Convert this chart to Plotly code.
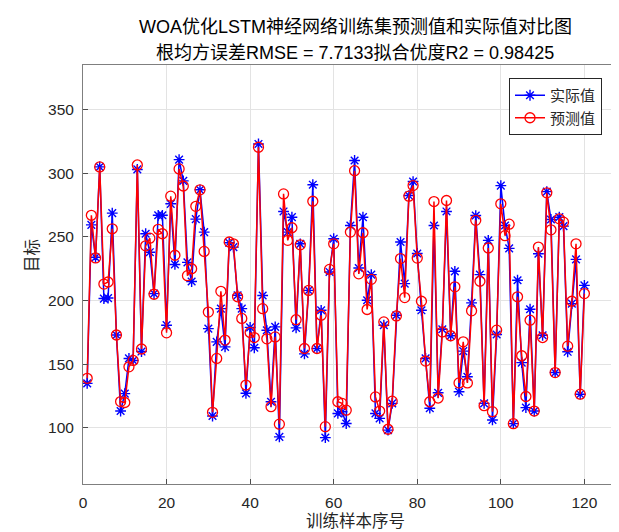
import plotly.graph_objects as go

sample_idx = list(range(1, 121))
actual = [135, 259.5, 234, 305, 201.6, 202, 268.7, 173, 113.3, 127,
          154.6, 153, 303, 160, 252.5, 238, 205.5, 267, 267, 180.7,
          276, 228.4, 310.7, 294, 230, 215, 264, 287, 253.8, 178,
          109.4, 167.6, 193.7, 163.7, 245.4, 242, 204.2, 193.7, 127.2, 179,
          163, 323, 204, 176.7, 120.6, 179.4, 93, 270, 253.8, 265.5,
          178.6, 244.6, 158.2, 208, 291, 162.4, 192.4, 92.4, 222.5, 248.6,
          111.4, 112.7, 103.5, 259, 310, 225.6, 265.5, 200.3, 220.4, 111.4,
          107.5, 180.7, 98.3, 119.3, 188.5, 246, 213.3, 282.5, 293.5, 237,
          192.4, 154.6, 115.5, 259, 127.6, 177.5, 270, 172.4, 223, 128.4,
          160.3, 140.2, 198.2, 266.8, 220.4, 119.3, 247.3, 106.3, 173.4, 290.3,
          259, 241, 103.4, 216, 151.3, 116, 193.2, 113.3, 236.8, 172.8,
          285.6, 263.7, 143.5, 265.5, 258.5, 159.8, 197.6, 232.4, 126.5, 212]
predicted = [139, 267, 233.5, 305, 213, 214.6, 256.4, 173, 120.7, 120,
             148, 153, 306.5, 162, 243, 249, 205, 256, 252.5, 174.7,
             282, 235.6, 303.4, 290, 219.6, 225, 274, 287, 238.6, 191,
             112.3, 154.6, 207.3, 169, 246, 244.6, 203, 186, 133.7, 175,
             171, 320.4, 193.7, 170, 116.7, 171.5, 103, 283.8, 247.3, 257.2,
             185, 243.8, 162.4, 208, 278, 162.4, 188.5, 101, 224.5, 244.6,
             120.6, 119.3, 114, 253.8, 302, 221, 253.3, 193, 216.7, 124.4,
             113.3, 183.3, 99, 121, 188, 233, 202.4, 282, 290.3, 233.4,
             199.5, 152.5, 120.6, 277.8, 123.5, 175.4, 278.6, 172.4, 210.8, 135.4,
             167.6, 135.4, 192, 263, 215.2, 117.5, 241.3, 112.8, 176.8, 276,
             251, 260, 103.4, 203, 156.7, 124.7, 184.6, 113.3, 242, 171,
             284.6, 255.6, 143.5, 264.2, 261.6, 164.2, 199.5, 244.6, 126.5, 205.5]

x_ticks = [0, 20, 40, 60, 80, 100, 120]
y_ticks = [100, 150, 200, 250, 300, 350]

title_line1 = "WOA优化LSTM神经网络训练集预测值和实际值对比图"
title_line2 = "根均方误差RMSE = 7.7133拟合优度R2 = 0.98425"

FONT = "Liberation Sans, Arial, Noto Sans CJK SC, sans-serif"

fig = go.Figure()
fig.add_trace(go.Scatter(
    x=sample_idx, y=actual, mode="lines+markers", name="实际值",
    line=dict(color="#0000ff", width=1.5),
    marker=dict(symbol="asterisk-open", size=9, color="#0000ff",
                line=dict(color="#0000ff", width=1.4)),
))
fig.add_trace(go.Scatter(
    x=sample_idx, y=predicted, mode="lines+markers", name="预测值",
    line=dict(color="#ff0000", width=1.5),
    marker=dict(symbol="circle-open", size=10, color="#ff0000",
                line=dict(color="#ff0000", width=1.3)),
))

axis_common = dict(
    showgrid=True, gridcolor="#e3e3e3", gridwidth=1,
    showline=True, linecolor="#7f7f7f", linewidth=1,
    ticks="inside", ticklen=5, tickcolor="#4d4d4d",
    tickfont=dict(family=FONT, size=15.5, color="#262626"),
    zeroline=False,
)
fig.update_layout(
    width=619, height=532,
    margin=dict(l=75, r=0, t=57, b=56),
    paper_bgcolor="white", plot_bgcolor="white",
    font=dict(family=FONT, color="#262626"),
    xaxis=dict(range=[0, 130.2], tickvals=x_ticks, mirror=True,
               ticklabelstandoff=4, **axis_common),
    yaxis=dict(range=[56, 385], tickvals=y_ticks,
               ticklabelstandoff=5, **axis_common),
    showlegend=True,
    legend=dict(x=(501 - 75) / 544, y=(476 - 70) / 419,
                xanchor="left", yanchor="top",
                bgcolor="white", bordercolor="#262626", borderwidth=1,
                font=dict(family=FONT, size=15, color="#262626"),
                tracegroupgap=0, itemwidth=30),
)

fig.add_annotation(text=title_line1, xref="paper", yref="paper",
                   x=0.5, y=(476 - 19) / 419, showarrow=False,
                   xanchor="center", yanchor="middle",
                   font=dict(family=FONT, size=18, color="#000000"))
fig.add_annotation(text=title_line2, xref="paper", yref="paper",
                   x=0.5, y=(476 - 45) / 419, showarrow=False,
                   xanchor="center", yanchor="middle",
                   font=dict(family=FONT, size=18, color="#000000"))
fig.add_annotation(text="训练样本序号", xref="paper", yref="paper",
                   x=0.5, y=(476 - 513) / 419, showarrow=False,
                   xanchor="center", yanchor="middle",
                   font=dict(family=FONT, size=16.5, color="#262626"))
fig.add_annotation(text="目标", xref="paper", yref="paper",
                   x=(24 - 75) / 544, y=(476 - 248) / 419, showarrow=False,
                   xanchor="center", yanchor="middle", textangle=-90,
                   font=dict(family=FONT, size=16.5, color="#262626"))

fig.write_html("out.html")
